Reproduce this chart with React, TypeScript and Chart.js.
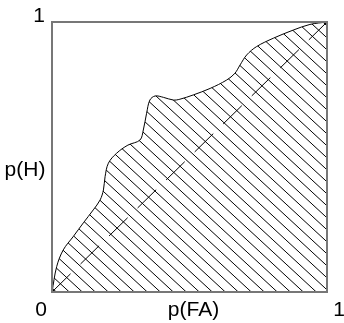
import React, { useEffect, useRef } from "react";
import { Chart, registerables } from "chart.js";

Chart.register(...registerables);

// ROC curve: false-alarm rate vs hit rate
const falseAlarm = [0, 0.017, 0.041, 0.077, 0.114, 0.15, 0.175, 0.187, 0.193, 0.205, 0.235, 0.276, 0.32, 0.332, 0.344, 0.356, 0.375, 0.405, 0.441, 0.465, 0.514, 0.575, 0.635, 0.665, 0.684, 0.708, 0.744, 0.805, 0.877, 0.938, 1];
const hitRate = [0, 0.094, 0.156, 0.205, 0.256, 0.304, 0.341, 0.378, 0.427, 0.477, 0.514, 0.544, 0.563, 0.6, 0.662, 0.711, 0.726, 0.721, 0.711, 0.714, 0.73, 0.754, 0.785, 0.81, 0.841, 0.878, 0.909, 0.94, 0.97, 0.991, 1];
// chance diagonal
const chanceX = [0, 1];
const chanceY = [0, 1];
// labels
const xTitle = "p(FA)";
const yTitle = "p(H)";
const tickMin = "0";
const tickMax = "1";

function makeHatch(): CanvasPattern | string {
  const W = 13;
  const H = 12;
  const c = document.createElement("canvas");
  c.width = W;
  c.height = H;
  const g = c.getContext("2d");
  if (!g) return "rgba(0,0,0,0.2)";
  g.strokeStyle = "#000";
  g.lineWidth = 1;
  g.beginPath();
  for (const dx of [-W, 0, W]) {
    g.moveTo(dx, 0);
    g.lineTo(dx + W, H);
  }
  g.stroke();
  const p = g.createPattern(c, "repeat");
  return p || "rgba(0,0,0,0.2)";
}

const framePlugin = {
  id: "frameAndLabels",
  afterDatasetsDraw(chart: any) {
    const { ctx, chartArea } = chart;
    const { left, right, top, bottom } = chartArea;
    ctx.save();
    ctx.strokeStyle = "#777";
    ctx.lineWidth = 2;
    ctx.strokeRect(left, top, right - left, bottom - top);
    ctx.fillStyle = "#000";
    ctx.font = "21px 'Liberation Sans', Arial, sans-serif";
    ctx.textBaseline = "alphabetic";
    ctx.textAlign = "center";
    ctx.fillText(tickMax, left - 13, top);
    ctx.fillText(tickMin, left - 11, bottom + 24);
    ctx.fillText(tickMax, right + 12, bottom + 24);
    ctx.fillText(xTitle, (left + right) / 2 + 4, bottom + 24);
    ctx.fillText(yTitle, left - 27, (top + bottom) / 2 + 19);
    ctx.restore();
  },
};

export default function App() {
  const ref = useRef<HTMLCanvasElement | null>(null);
  useEffect(() => {
    if (!ref.current) return;
    const hatch = makeHatch();
    const chart = new Chart(ref.current, {
      type: "line",
      data: {
        datasets: [
          {
            data: falseAlarm.map((x, i) => ({ x, y: hitRate[i] })),
            borderColor: "#000",
            borderWidth: 1,
            backgroundColor: hatch as any,
            fill: "origin",
            pointRadius: 0,
            tension: 0.35,
          },
          {
            data: chanceX.map((x, i) => ({ x, y: chanceY[i] })),
            borderColor: "#000",
            borderWidth: 1,
            borderDash: [26, 14],
            fill: false,
            pointRadius: 0,
          },
        ],
      },
      options: {
        animation: false,
        responsive: true,
        maintainAspectRatio: false,
        devicePixelRatio: 1,
        layout: { padding: { left: 52, top: 22, right: 17, bottom: 31 } },
        plugins: { legend: { display: false }, tooltip: { enabled: false } },
        scales: {
          x: { type: "linear", min: 0, max: 1, display: false },
          y: { type: "linear", min: 0, max: 1, display: false },
        },
      },
      plugins: [framePlugin],
    });
    return () => chart.destroy();
  }, []);
  return (
    <div style={{ position: "absolute", left: 0, top: 0, width: 344, height: 323, background: "#fff" }}>
      <canvas ref={ref} />
    </div>
  );
}
